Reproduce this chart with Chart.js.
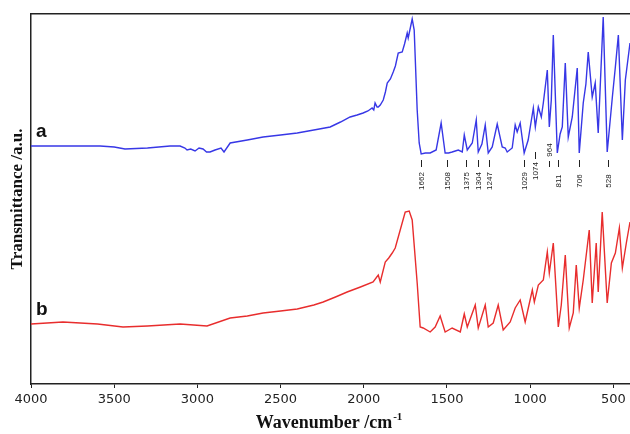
<!DOCTYPE html>
<html>
<head>
<meta charset="utf-8">
<script src="https://cdn.jsdelivr.net/npm/chart.js@4.4.1/dist/chart.umd.min.js"></script>
<style>
    html, body { margin: 0; padding: 0; background: #fff; }
    #wrap { width: 630px; height: 434px; }
</style>
</head>
<body>
<div id="wrap"><canvas id="ftirChart"></canvas></div>
<script>
// ========== DATA ==========
// wavenumbers (cm-1) and transmittance (a.u.)
const waveA = [4000, 3800, 3585, 3500, 3435, 3300, 3164, 3104, 3075, 3062, 3040, 3014, 2990, 2966, 2945, 2924, 2894,
    2858, 2840, 2803, 2700, 2605, 2500, 2400, 2300, 2202, 2140, 2082, 2040, 2004, 1975, 1950, 1940, 1932, 1920, 1913,
    1901, 1883, 1870, 1859, 1840, 1823, 1810, 1793, 1769, 1755, 1739, 1733, 1709, 1697, 1679, 1667, 1655, 1630, 1601,
    1565, 1535, 1511, 1490, 1469, 1450, 1432, 1408, 1396, 1378, 1348, 1324, 1312, 1290, 1270, 1252, 1228, 1198, 1168,
    1150, 1138, 1108, 1090, 1078, 1060, 1036, 1012, 981, 969, 951, 933, 921, 897, 885, 873, 861, 837, 820, 807, 789,
    771, 747, 717, 705, 681, 665, 651, 627, 609, 591, 561, 537, 520, 506, 488, 470, 446, 428, 400];
const transA = [238, 238, 238, 237, 235, 236, 238, 238, 236, 234, 235, 233, 236, 235, 232, 232, 234,
    236, 232, 241, 244, 247, 249, 251, 254, 257, 262, 267, 269, 271, 273, 276, 274, 281, 277, 277,
    279, 284, 292, 301, 305, 312, 318, 331, 332, 340, 351, 346, 365, 354, 274, 241, 230, 231, 231,
    234, 261, 231, 231, 232, 233, 234, 232, 249, 234, 241, 264, 232, 240, 259, 231, 237, 260, 237,
    236, 232, 236, 259, 252, 261, 231, 244, 276, 257, 277, 267, 281, 314, 257, 284, 349, 231, 250, 257, 321,
    247, 267, 316, 231, 281, 300, 332, 287, 301, 251, 367, 232, 262, 287, 317, 349, 244, 304, 341];

const waveB = [4000, 3808, 3600, 3447, 3300, 3104, 2942, 2803, 2700, 2605, 2500, 2400, 2300, 2244, 2170, 2100, 2020,
    1944, 1913, 1901, 1871, 1850, 1829, 1811, 1781, 1751, 1727, 1709, 1679, 1661, 1643, 1601, 1571, 1541, 1511, 1469,
    1420, 1396, 1378, 1330, 1312, 1270, 1252, 1222, 1192, 1162, 1120, 1090, 1060, 1030, 987, 975, 951, 921, 897,
    885, 861, 831, 813, 789, 765, 741, 723, 705, 681, 645, 627, 603, 591, 567, 537, 512, 488, 464, 446, 422, 400];
const transB = [60, 62, 60, 57, 58, 60, 58, 66, 68, 71, 73, 75, 79, 82, 87, 92, 97,
    102, 109, 102, 122, 126, 131, 136, 154, 172, 173, 164, 101, 57, 56, 52, 57, 68, 52, 56,
    52, 70, 57, 79, 56, 79, 57, 61, 79, 54, 62, 76, 84, 62, 94, 82, 99, 104, 132,
    111, 141, 57, 79, 129, 56, 71, 119, 76, 104, 154, 81, 141, 92, 172, 81, 121, 131, 156, 116, 141, 162];

const xTicks = [4000, 3500, 3000, 2500, 2000, 1500, 1000, 500];

// peak annotations on curve a
const peakLabels = ["1662", "1508", "1375", "1304", "1247", "1029", "1074", "964", "811", "706", "528"];
const peakPos = [1655, 1499, 1384, 1312, 1246, 1035, 969, 885, 831, 705, 530];
const peakDashTop = [224, 224, 224, 224, 224, 224, 232, 223, 224, 224, 224];
const peakDashBottom = [217, 217, 217, 217, 217, 217, 225, 217, 217, 217, 217];
const peakTextY = [203, 203, 203, 203, 203, 203, 213, 234, 203, 203, 203];

// curve names
const curveNames = ["a", "b"];
const curveNameX = [3970, 3970];
const curveNameY = [247, 69];

const toPoints = (xs, ys) => xs.map((x, i) => ({ x: x, y: ys[i] }));

// ========== ANNOTATION PLUGIN ==========
const annotations = {
    id: "annotations",
    afterDatasetsDraw(chart) {
        const ctx = chart.ctx;
        const xs = chart.scales.x;
        const ys = chart.scales.y;
        ctx.save();

        // peak labels
        ctx.strokeStyle = "#222";
        ctx.lineWidth = 1;
        ctx.fillStyle = "#222";
        ctx.font = "8px 'Liberation Sans', Arial, sans-serif";
        ctx.textAlign = "center";
        ctx.textBaseline = "middle";
        peakLabels.forEach((label, i) => {
            const px = Math.round(xs.getPixelForValue(peakPos[i])) + 0.5;
            ctx.beginPath();
            ctx.moveTo(px, ys.getPixelForValue(peakDashTop[i]));
            ctx.lineTo(px, ys.getPixelForValue(peakDashBottom[i]));
            ctx.stroke();
            ctx.save();
            ctx.translate(px, ys.getPixelForValue(peakTextY[i]));
            ctx.rotate(-Math.PI / 2);
            ctx.fillText(label, 0, 0);
            ctx.restore();
        });

        // a / b
        ctx.font = "bold 19px 'Liberation Sans', Arial, sans-serif";
        ctx.fillStyle = "#111";
        ctx.textAlign = "left";
        ctx.textBaseline = "alphabetic";
        curveNames.forEach((name, i) => {
            ctx.fillText(name, xs.getPixelForValue(curveNameX[i]), ys.getPixelForValue(curveNameY[i]));
        });

        // x axis title with superscript
        const area = chart.chartArea;
        const main = "Wavenumber /cm";
        const sup = "-1";
        ctx.font = "bold 18px 'Liberation Serif', 'Times New Roman', serif";
        const wMain = ctx.measureText(main).width;
        ctx.font = "bold 11px 'Liberation Serif', 'Times New Roman', serif";
        const wSup = ctx.measureText(sup).width;
        const startX = (area.left + area.right) / 2 - (wMain + wSup) / 2 - 2;
        const baseY = 428;
        ctx.font = "bold 18px 'Liberation Serif', 'Times New Roman', serif";
        ctx.fillText(main, startX, baseY);
        ctx.font = "bold 11px 'Liberation Serif', 'Times New Roman', serif";
        ctx.fillText(sup, startX + wMain + 1, baseY - 8);

        ctx.restore();
    }
};

// ========== CHART ==========
const ctx = document.getElementById("ftirChart").getContext("2d");
new Chart(ctx, {
    type: "line",
    data: {
        datasets: [
            {
                label: "a",
                data: toPoints(waveA, transA),
                borderColor: "rgb(55, 55, 230)",
                borderWidth: 1.4,
                pointRadius: 0,
                tension: 0,
                fill: false
            },
            {
                label: "b",
                data: toPoints(waveB, transB),
                borderColor: "rgb(232, 45, 45)",
                borderWidth: 1.4,
                pointRadius: 0,
                tension: 0,
                fill: false
            }
        ]
    },
    options: {
        responsive: true,
        maintainAspectRatio: false,
        animation: false,
        layout: { padding: { top: 14, right: 0, bottom: 0, left: 0 } },
        plugins: {
            legend: { display: false },
            tooltip: { enabled: false }
        },
        scales: {
            x: {
                type: "linear",
                position: "bottom",
                reverse: true,
                min: 400,
                max: 4000,
                afterBuildTicks: function (scale) {
                    scale.ticks = xTicks.map(v => ({ value: v }));
                },
                afterFit: function (scale) {
                    scale.height = 50;
                },
                ticks: {
                    color: "#222",
                    font: { family: "'DejaVu Sans', Verdana, sans-serif", size: 13 },
                    padding: 4,
                    maxRotation: 0,
                    callback: function (value) {
                        return String(value);
                    }
                },
                grid: {
                    display: true,
                    drawOnChartArea: false,
                    drawTicks: true,
                    tickLength: 4,
                    color: "#222"
                },
                border: { display: true, color: "#222", width: 1.5 }
            },
            xTop: {
                type: "linear",
                position: "top",
                reverse: true,
                min: 400,
                max: 4000,
                afterFit: function (scale) {
                    scale.height = 0;
                },
                ticks: { display: false },
                grid: { display: false },
                border: { display: true, color: "#222", width: 1.5 }
            },
            y: {
                min: 0,
                max: 370,
                afterFit: function (scale) {
                    scale.width = 31;
                },
                ticks: { display: false },
                grid: { display: false },
                border: { display: true, color: "#222", width: 1.5 },
                title: {
                    display: true,
                    text: "Transmittance /a.u.",
                    color: "#111",
                    font: { family: "'Liberation Serif', 'Times New Roman', serif", size: 17, weight: "bold" },
                    padding: { top: 7, bottom: 0 }
                }
            }
        }
    },
    plugins: [annotations]
});
</script>
</body>
</html>
